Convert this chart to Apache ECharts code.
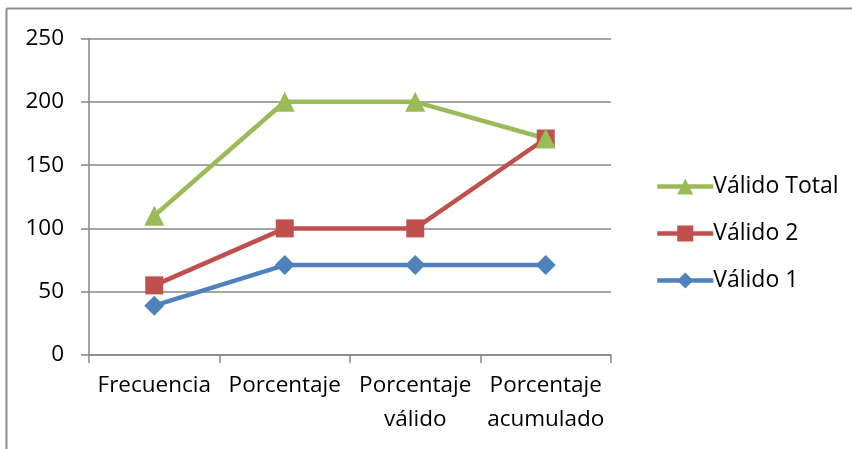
<!DOCTYPE html>
<html>
<head>
<meta charset="utf-8">
<script src="https://cdn.jsdelivr.net/npm/echarts@6/dist/echarts.min.js"></script>
<style>
  html, body { margin: 0; padding: 0; background: #fff; }
  #chart { width: 852px; height: 449px; }
</style>
</head>
<body>
<div id="chart"></div>
<script>
// Categories and series values
const categories = ['Frecuencia', 'Porcentaje', 'Porcentaje\nválido', 'Porcentaje\nacumulado'];
const valido1 = [39, 71, 71, 71];
const valido2 = [55, 100, 100, 171];
const validoTotal = [110, 200, 200, 171];
const yTicks = { min: 0, max: 250, interval: 50 };

const FONT = '"Open Sans", "Noto Sans", sans-serif';
const GRID_COLOR = '#878787';

const chart = echarts.init(document.getElementById('chart'), null, { renderer: 'canvas' });

function lineSeries(name, data, color, symbol, size) {
  return {
    name: name,
    type: 'line',
    data: data,
    symbol: symbol,
    symbolSize: size,
    showAllSymbol: true,
    lineStyle: { color: color, width: 4.5 },
    itemStyle: { color: color },
    emphasis: { disabled: true },
    animation: false
  };
}

chart.setOption({
  animation: false,
  backgroundColor: '#fff',
  grid: { left: 89, right: 241, top: 38.5, bottom: 94, containLabel: false },
  graphic: [
    { type: 'line', shape: { x1: 6.5, y1: 8.5, x2: 852, y2: 8.5 }, style: { stroke: '#8c8c8c', lineWidth: 2 }, silent: true },
    { type: 'line', shape: { x1: 6.5, y1: 8.5, x2: 6.5, y2: 449 }, style: { stroke: '#8c8c8c', lineWidth: 2 }, silent: true }
  ],
  legend: {
    orient: 'vertical',
    left: 650,
    top: 170,
    itemWidth: 56,
    itemHeight: 20,
    itemGap: 24,
    data: ['Válido Total', 'Válido 2', 'Válido 1'],
    lineStyle: { width: 4.5 },
    textStyle: { fontFamily: FONT, fontSize: 23, color: '#000', padding: [0, 0, 0, -5] }
  },
  xAxis: {
    type: 'category',
    data: categories,
    boundaryGap: true,
    axisLine: { lineStyle: { color: GRID_COLOR, width: 1.5 } },
    axisTick: { show: true, length: 8, lineStyle: { color: GRID_COLOR, width: 1.5 } },
    axisLabel: { fontFamily: FONT, fontSize: 22.5, color: '#000', margin: 14, lineHeight: 34, interval: 0 },
    splitLine: { show: false }
  },
  yAxis: {
    type: 'value',
    min: yTicks.min,
    max: yTicks.max,
    interval: yTicks.interval,
    axisLine: { show: true, lineStyle: { color: GRID_COLOR, width: 1.5 } },
    axisTick: { show: true, length: 8, lineStyle: { color: GRID_COLOR, width: 1.5 } },
    axisLabel: { fontFamily: FONT, fontSize: 22.5, color: '#000', margin: 25 },
    splitLine: { show: true, lineStyle: { color: GRID_COLOR, width: 1.5 } }
  },
  series: [
    lineSeries('Válido 1', valido1, '#4F81BD', 'diamond', 20),
    lineSeries('Válido 2', valido2, '#C0504D', 'rect', 18),
    lineSeries('Válido Total', validoTotal, '#9BBB59', 'triangle', 20)
  ]
});
</script>
</body>
</html>
